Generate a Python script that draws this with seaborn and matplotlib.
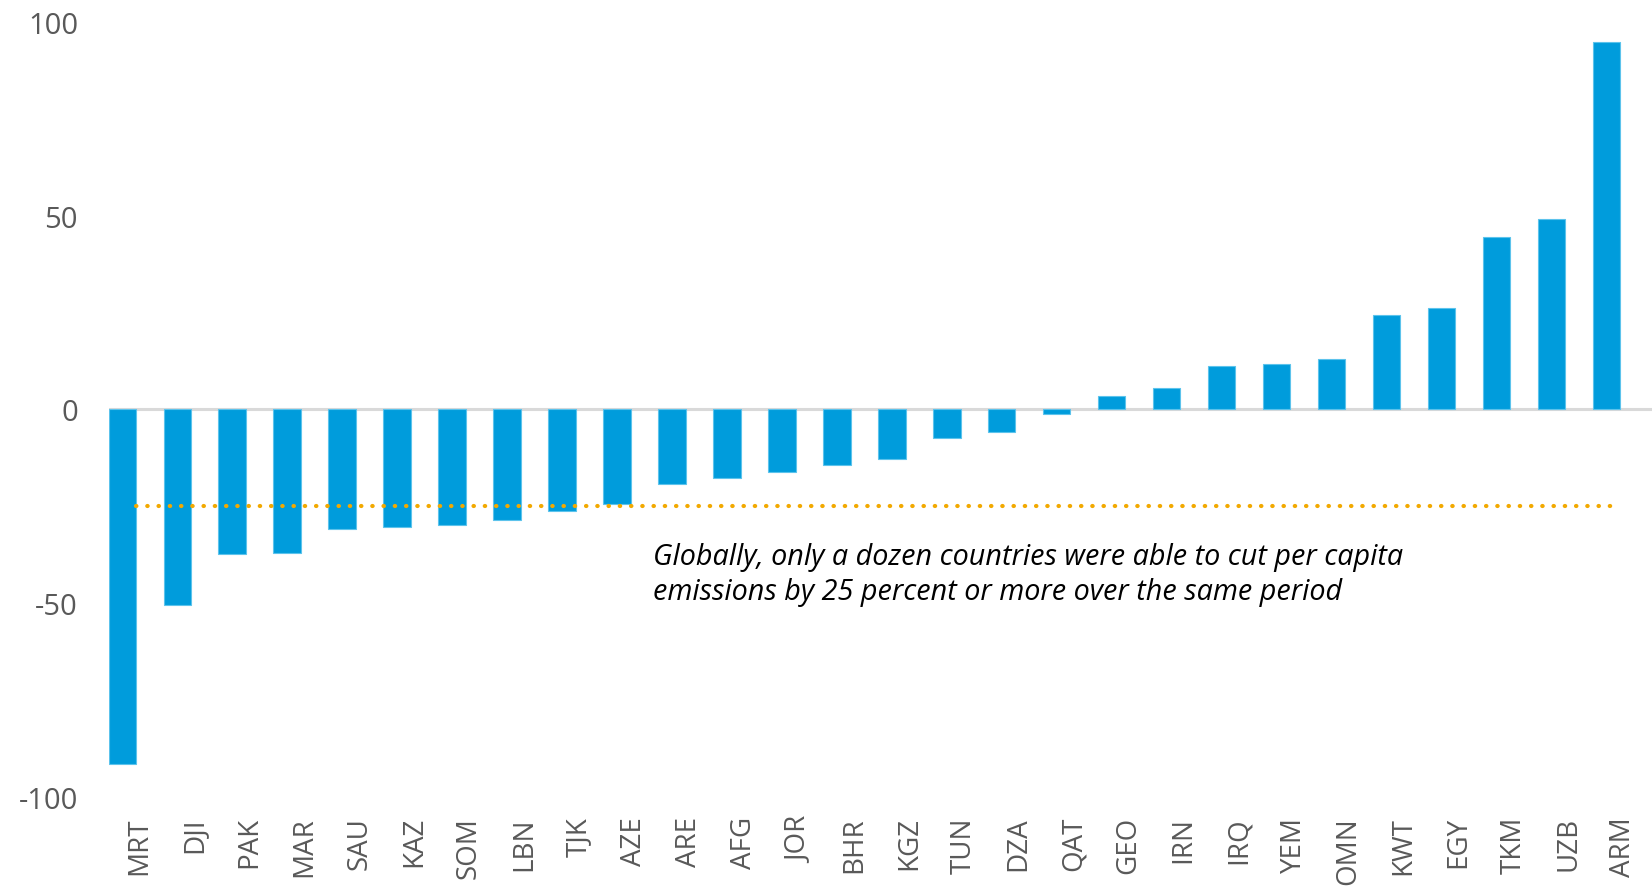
import matplotlib
matplotlib.use("Agg")
import matplotlib.pyplot as plt
import matplotlib.transforms as mtransforms
import seaborn as sns
import pandas as pd

# Change in per capita CO2 emissions (percent), by country
countries = ["MRT", "DJI", "PAK", "MAR", "SAU", "KAZ", "SOM", "LBN", "TJK", "AZE",
             "ARE", "AFG", "JOR", "BHR", "KGZ", "TUN", "DZA", "QAT", "GEO", "IRN",
             "IRQ", "YEM", "OMN", "KWT", "EGY", "TKM", "UZB", "ARM"]
change_pct = [-91.5, -50.5, -37.3, -37.0, -31.0, -30.3, -29.8, -28.6, -26.3, -24.5,
              -19.3, -17.8, -16.2, -14.3, -12.9, -7.5, -5.8, -1.3, 3.4, 5.5,
              11.2, 11.7, 13.1, 24.3, 26.1, 44.5, 49.2, 94.8]
threshold = -25
y_ticks = [-100, -50, 0, 50, 100]
note = ("Globally, only a dozen countries were able to cut per capita\n"
        "emissions by 25 percent or more over the same period")

df = pd.DataFrame({"country": countries, "change": change_pct})

sns.set_theme(style="white")
plt.rcParams["font.family"] = ["Open Sans", "DejaVu Sans"]
plt.rcParams["axes.unicode_minus"] = False

fig = plt.figure(figsize=(16.52, 8.87), dpi=100)
ax = fig.add_axes([0.0657, 0.1008, 0.9343, 0.873])

sns.barplot(data=df, x="country", y="change", color="#009CDC", saturation=1,
            width=0.5, edgecolor="#5CC3EC", linewidth=0.8, ax=ax, zorder=2)

# zero baseline
ax.axhline(0, color="#D9D9D9", linewidth=2.2, zorder=1)

# threshold line across the bars
ax.plot([0.25, len(countries) - 0.75], [threshold, threshold], color="#F2A900",
        linewidth=3, linestyle=(0, (0.1, 2.6)), dash_capstyle="round", zorder=3)

ax.text(9.65, -34.2, note, fontsize=20.7, style="italic", color="#000000",
        ha="left", va="top", linespacing=1.3)

ax.set_xlim(-0.25, 27.83)
ax.set_ylim(-100, 100)
ax.set_yticks(y_ticks)
ax.set_xlabel("")
ax.set_ylabel("")
ax.tick_params(axis="y", labelsize=21, labelcolor="#595959", length=0, pad=22)
ax.tick_params(axis="x", labelsize=20, labelcolor="#595959", length=0, pad=14,
               labelrotation=90)
shift = mtransforms.ScaledTranslation(17 / 100, 0, fig.dpi_scale_trans)
for lbl in ax.get_xticklabels():
    lbl.set_verticalalignment("top")
    lbl.set_transform(lbl.get_transform() + shift)
for side in ["top", "right", "left", "bottom"]:
    ax.spines[side].set_visible(False)

fig.savefig("out.png", dpi=100, facecolor="white")
